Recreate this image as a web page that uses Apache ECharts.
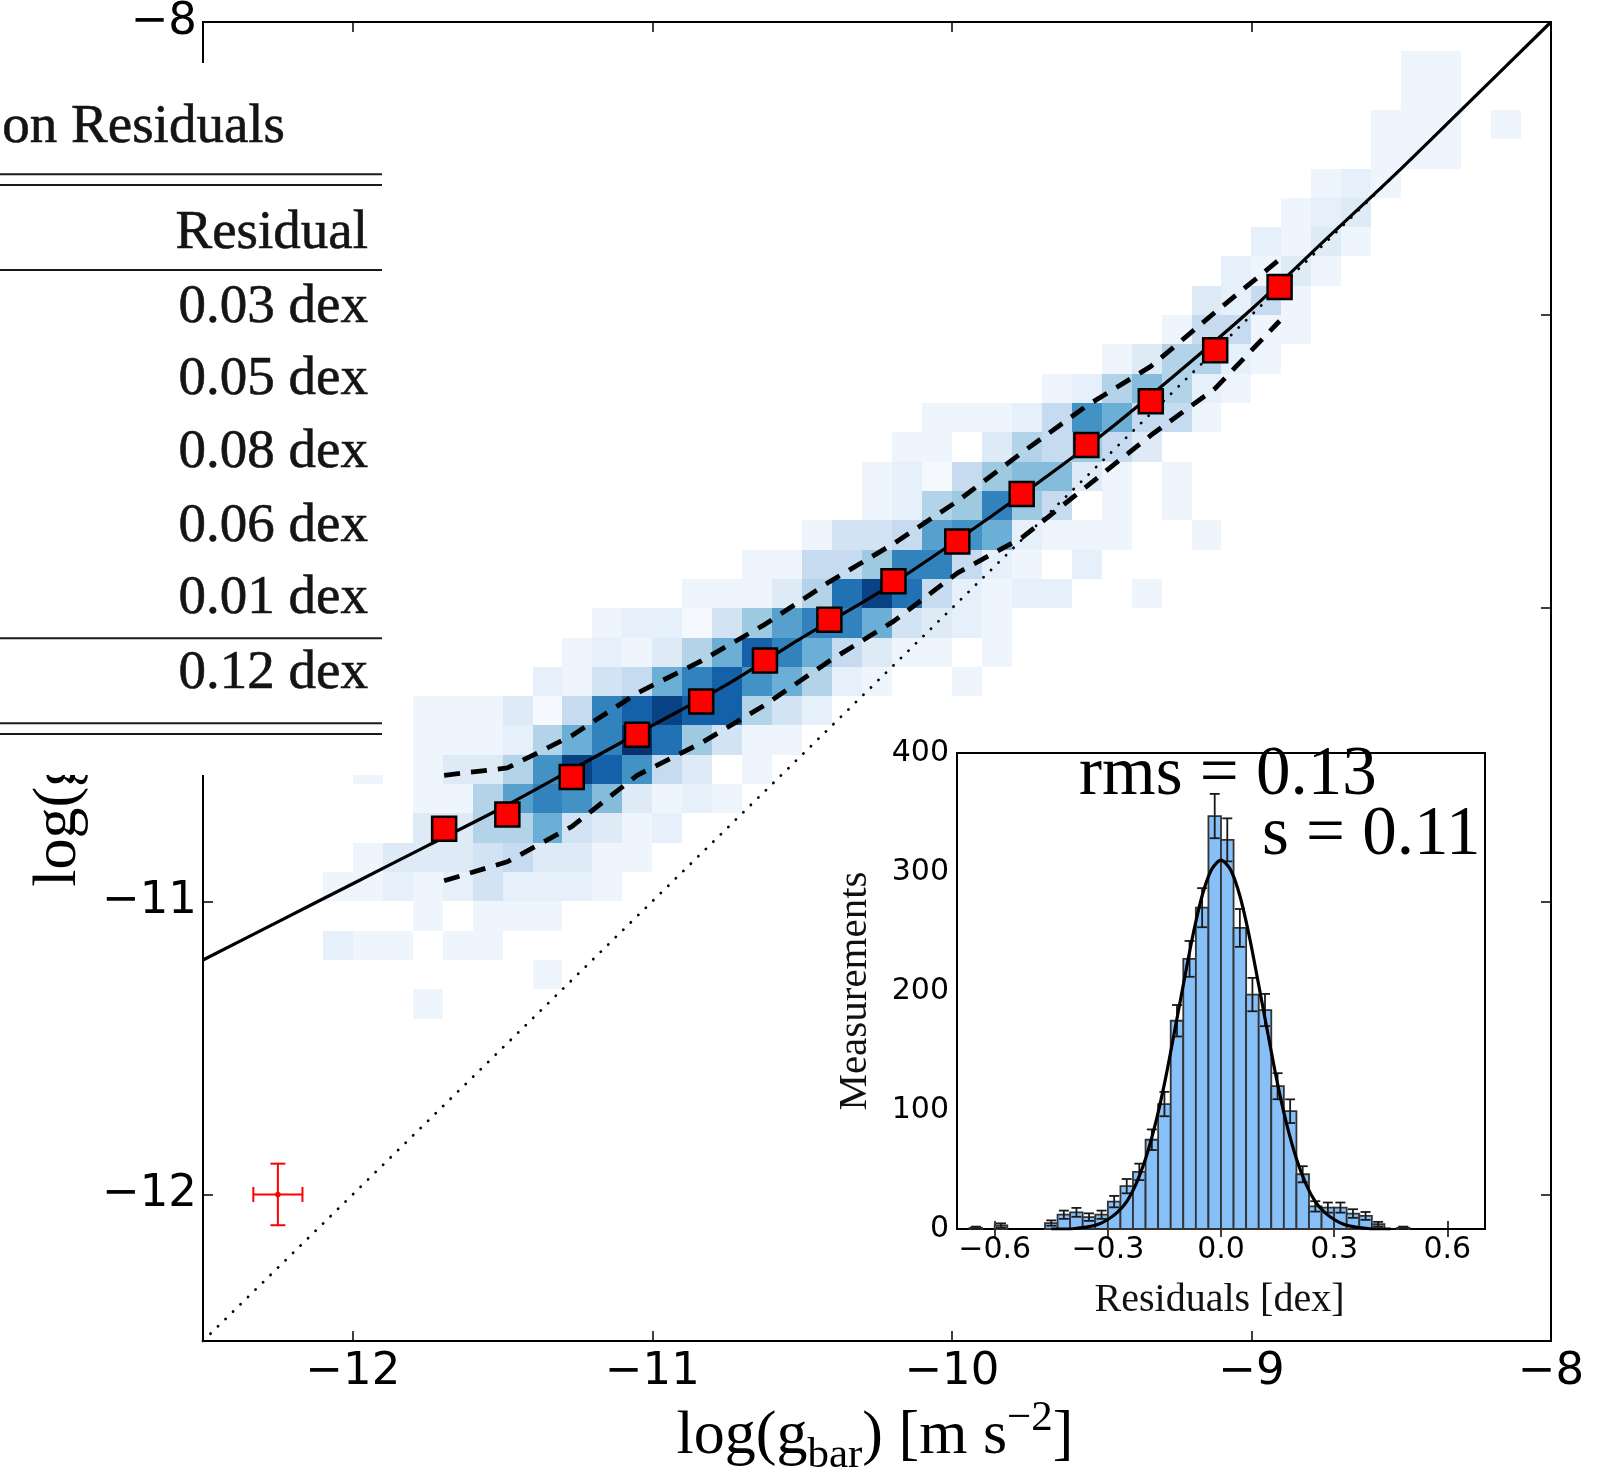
<!DOCTYPE html>
<html><head><meta charset="utf-8">
<script src="https://cdn.jsdelivr.net/npm/echarts@6/dist/echarts.min.js"></script>
<style>html,body{margin:0;padding:0;background:#fff}#c{width:1599px;height:1478px}</style>
</head><body><div id="c"></div>
<script>
// ---------------- data ----------------
const mainTicks = [-12, -11, -10, -9, -8];
const binSize = 0.1;                       // 2D histogram bin (dex)
// each row: lower y edge, lower x edge of first cell, shade levels (0 = empty, 9 = darkest)
const heatRowY = [-11.4, -11.3, -11.2, -11.1, -11.0, -10.9, -10.8, -10.7, -10.6, -10.5, -10.4, -10.3, -10.2, -10.1,
  -10.0, -9.9, -9.8, -9.7, -9.6, -9.5, -9.4, -9.3, -9.2, -9.1, -9.0, -8.9, -8.8, -8.7, -8.6, -8.5, -8.4, -8.3, -8.2];
const heatRowX0 = [-11.8, -11.4, -12.1, -11.8, -12.1, -12.0, -11.8, -11.8, -12.0, -11.8, -11.8, -11.4, -11.3, -11.2,
  -10.9, -10.7, -10.5, -10.3, -10.3, -10.2, -10.1, -9.7, -9.5, -9.3, -9.2, -9.1, -9.0, -8.9, -8.8, -8.6, -8.6, -8.5, -8.5];
const heatRowLevels = [
  [1],
  [1],
  [1.5, 1, 1, 0, 1, 1],
  [1, 0, 1, 1, 1],
  [1, 1, 1.5, 1, 1.5, 2.5, 1.5, 1.5, 1.5, 1],
  [1, 2, 2, 2, 2.5, 3, 2, 2, 1, 1],
  [2, 2, 3.5, 3.5, 5, 2.5, 2, 1, 1.5],
  [1, 1, 3.5, 5.5, 6.5, 6, 4.5, 2, 1, 1.5, 1],
  [1, 0, 1, 2, 2, 3.5, 6, 8.5, 7.5, 6, 3, 2, 0, 1],
  [1, 1, 1, 1.5, 3.5, 5, 6.5, 9, 7, 4, 2.5, 1, 1],
  [1, 1, 1, 2, 0.5, 3, 6.5, 7.5, 8.5, 7.5, 7.5, 3.5, 2.5, 1.5],
  [1.5, 1, 2.5, 3, 5, 6.5, 7.5, 6, 5, 3.5, 1.5, 1, 0, 0, 1],
  [1, 1.5, 1, 2, 3.5, 5, 7.5, 6.5, 5, 3, 2, 1, 1, 0, 1],
  [1, 1.5, 1.5, 0.5, 2.5, 4, 5.5, 6.5, 6.5, 5, 2.5, 2, 1.5, 1],
  [1, 1, 1, 2, 3.5, 7, 8.5, 7, 3, 1.5, 1, 1.5, 1.5, 0, 0, 1],
  [1, 1, 3, 3, 4, 6.5, 6.5, 3, 1.5, 1, 0, 1.5],
  [1, 2.5, 2.5, 3, 5.5, 6, 5, 1.5, 1, 1, 1, 0, 0, 1],
  [1, 1.5, 3.5, 4, 6.5, 4, 3, 0, 1, 0, 1],
  [1, 1.5, 0.5, 3, 4, 4.5, 4.5, 2, 1, 0, 1],
  [1, 1, 0, 2, 3.5, 3, 4, 3, 2],
  [1, 1, 1, 1.5, 3, 6, 5, 3, 3, 1],
  [1, 1.5, 3.5, 4.5, 3.5, 1.5, 1],
  [1, 2, 3.5, 3.5, 1.5, 1],
  [1, 3, 3, 1, 1],
  [2, 1.5, 3, 1],
  [1.5, 1, 2, 1],
  [1.5, 1, 2, 1],
  [1, 1.5, 2],
  [1, 1.5, 1],
  [1, 1, 1],
  [1, 1, 1, 0, 1],
  [1, 1],
  [1, 1]
];
const blues = ['#fbfdff', '#eef5fc', '#deebf7', '#c6dbef', '#9ecae1', '#6baed6', '#4292c6', '#2171b5', '#08519c', '#08306b'];

const binnedX = [-11.695, -11.484, -11.269, -11.051, -10.837, -10.624, -10.409, -10.195, -9.982, -9.767, -9.551, -9.336, -9.121, -8.906];
const binnedY = [-10.752, -10.704, -10.576, -10.432, -10.318, -10.178, -10.039, -9.908, -9.772, -9.610, -9.443, -9.294, -9.120, -8.904];
const upperY  = [-10.57, -10.545, -10.435, -10.29, -10.18, -10.055, -9.91, -9.78, -9.635, -9.47, -9.31, -9.175, -8.99, -8.81];
const lowerY  = [-10.93, -10.865, -10.745, -10.57, -10.46, -10.33, -10.18, -10.045, -9.88, -9.76, -9.585, -9.41, -9.25, -9.02];

const fitX = [-12.5, -12.25, -12, -11.75, -11.5, -11.25, -11, -10.75, -10.5, -10.25, -10, -9.75, -9.5, -9.25, -9, -8.75, -8.5, -8.25, -8];
const fitY = [-11.20, -11.07, -10.94, -10.81, -10.68, -10.54, -10.40, -10.26, -10.10, -9.95, -9.78, -9.60, -9.41, -9.20, -8.98, -8.74, -8.50, -8.25, -8.00];
const unityX = [-12.5, -8];
const unityY = [-12.5, -8];
const errPoint = [-12.25, -12.0];
const errHalf = [0.082, 0.105];

const histStart = -0.7;
const histBin = 1 / 30;
const histCounts = [0, 1, 0, 3, 0, 0, 0, 5, 12, 14, 10, 12, 23, 36, 48, 75, 105, 175, 227, 270, 347, 327, 253, 197, 184, 120, 99, 46, 19, 18, 18, 13, 11, 4, 0, 1];
const gaussX = [-0.45, -0.425, -0.4, -0.375, -0.35, -0.325, -0.3, -0.275, -0.25, -0.225, -0.2, -0.175, -0.15, -0.125, -0.1, -0.075, -0.05, -0.025, 0,
  0.025, 0.05, 0.075, 0.1, 0.125, 0.15, 0.175, 0.2, 0.225, 0.25, 0.275, 0.3, 0.325, 0.35, 0.375, 0.4, 0.425, 0.45];
const gaussY = [0, 0, 0, 1, 2, 4, 8, 14, 23, 38, 59, 87, 122, 163, 205, 246, 280, 302, 310,
  302, 280, 246, 205, 163, 122, 87, 59, 38, 23, 14, 8, 4, 2, 1, 0, 0, 0];
const insetXTicks = [-0.6, -0.3, 0, 0.3, 0.6];
const insetYTicks = [0, 100, 200, 300, 400];

const tableTitle = 'on Residuals';
const tableHeader = 'Residual';
const tableRows = ['0.03 dex', '0.05 dex', '0.08 dex', '0.06 dex', '0.01 dex'];
const tableTotal = '0.12 dex';
const statRms = 'rms = 0.13';
const statS = 's = 0.11';

// ---------------- build series data ----------------
const r1 = v => Math.round(v * 1000) / 1000;
const heatData = [];
heatRowY.forEach((y, r) => {
  heatRowLevels[r].forEach((lv, i) => {
    if (lv > 0) heatData.push([r1(heatRowX0[r] + i * binSize), y, lv]);
  });
});
const histData = histCounts.map((c, i) => [histStart + i * histBin, histStart + (i + 1) * histBin, c]).filter(d => d[2] > 0);
const zip = (a, b) => a.map((v, i) => [v, b[i]]);
const minusFmt = v => (v < 0 ? '\u2212' : '') + Math.abs(v);
const minusFmt1 = v => (v < -1e-9 ? '\u2212' : '') + Math.abs(v).toFixed(1);

const chart = echarts.init(document.getElementById('c'), null, { renderer: 'canvas' });

function axisX(grid, pos, ticks, showLabel, fmt, fs, margin, len, min, max, z) {
  return {
    gridIndex: grid, type: 'value', position: pos, min: min, max: max, z: z,
    axisLine: { show: false }, splitLine: { show: false },
    axisTick: { show: true, inside: true, length: len, customValues: ticks, lineStyle: { color: '#000', width: 1.5 } },
    axisLabel: { show: showLabel, customValues: ticks, formatter: fmt, fontFamily: 'DejaVu Sans', fontSize: fs, color: '#000', margin: margin }
  };
}

const serifMain = 'Liberation Serif';
const labelRich = {
  a: { fontFamily: serifMain, fontSize: 62, lineHeight: 80, color: '#000' },
  b: { fontFamily: serifMain, fontSize: 43, lineHeight: 36, verticalAlign: 'bottom', color: '#000' },
  c: { fontFamily: serifMain, fontSize: 43, lineHeight: 48, verticalAlign: 'top', color: '#000' }
};

const graphics = [];
// main axis labels
graphics.push({ type: 'text', x: 875, y: 1397, z: 20, style: { text: '{a|log(g}{b|bar}{a|) [m s}{c|\u22122}{a|]}', rich: labelRich, textAlign: 'center', textVerticalAlign: 'top' } });
graphics.push({ type: 'text', x: 59, y: 686, rotation: Math.PI / 2, z: 1, style: { text: '{a|log(g}{b|obs}{a|) [m s}{c|\u22122}{a|]}', rich: labelRich, textAlign: 'center', textVerticalAlign: 'middle' } });
// table overlay
graphics.push({ type: 'rect', z: 19, shape: { x: 0, y: 63, width: 383, height: 712 }, style: { fill: '#fff' } });
const tFont = '55px "Liberation Serif"';
const tMid = b => b - 0.3375 * 55;
const tStroke = { stroke: '#141414', lineWidth: 0.6 };
graphics.push({ type: 'text', z: 20, x: 285, y: tMid(146), style: Object.assign({ text: tableTitle, font: tFont, fill: '#141414', textAlign: 'right', textVerticalAlign: 'middle' }, tStroke) });
graphics.push({ type: 'text', z: 20, x: 368, y: tMid(252), style: Object.assign({ text: tableHeader, font: tFont, fill: '#141414', textAlign: 'right', textVerticalAlign: 'middle' }, tStroke) });
const rowBase = [326, 398.3, 470.7, 545, 617.3];
tableRows.forEach((t, i) => {
  graphics.push({ type: 'text', z: 20, x: 368, y: tMid(rowBase[i]), style: Object.assign({ text: t, font: tFont, fill: '#141414', textAlign: 'right', textVerticalAlign: 'middle' }, tStroke) });
});
graphics.push({ type: 'text', z: 20, x: 368, y: tMid(691.7), style: Object.assign({ text: tableTotal, font: tFont, fill: '#141414', textAlign: 'right', textVerticalAlign: 'middle' }, tStroke) });
[174.3, 185, 270, 638.3, 723.3, 734].forEach(yy => {
  graphics.push({ type: 'line', z: 20, shape: { x1: 0, y1: yy, x2: 382, y2: yy }, style: { stroke: '#1a1a1a', lineWidth: 2 } });
});
// inset labels
graphics.push({ type: 'text', z: 12, x: 1219.5, y: 1313.5 - 0.3375 * 40, style: { text: 'Residuals [dex]', font: '40px "Liberation Serif"', fill: '#111', textAlign: 'center', textVerticalAlign: 'middle' } });
graphics.push({ type: 'text', z: 12, x: 855, y: 991, rotation: Math.PI / 2, style: { text: 'Measurements', font: '41px "Liberation Serif"', fill: '#111', textAlign: 'center', textVerticalAlign: 'middle' } });
graphics.push({ type: 'text', z: 12, x: 1079, y: 799 - 0.3375 * 69, style: { text: statRms, font: '69px "Liberation Serif"', fill: '#000', textAlign: 'left', textVerticalAlign: 'middle' } });
graphics.push({ type: 'text', z: 12, x: 1262, y: 859 - 0.3375 * 69, style: { text: statS, font: '69px "Liberation Serif"', fill: '#000', textAlign: 'left', textVerticalAlign: 'middle' } });

const option = {
  animation: false,
  backgroundColor: '#fff',
  grid: [
    { left: 203, right: 48, top: 22, bottom: 137, show: true, borderColor: '#000', borderWidth: 2, backgroundColor: 'rgba(0,0,0,0)', outerBoundsMode: 'none', containLabel: false, z: 0 },
    { left: 957, right: 114, top: 753, bottom: 249, show: true, borderColor: '#000', borderWidth: 2, backgroundColor: '#fff', outerBoundsMode: 'none', containLabel: false, z: 6 }
  ],
  xAxis: [
    axisX(0, 'bottom', mainTicks, true, minusFmt, 45, 9, 10, -12.5, -8, 1),
    axisX(0, 'top', mainTicks, false, minusFmt, 45, 9, 10, -12.5, -8, 1),
    axisX(1, 'bottom', insetXTicks, true, minusFmt1, 30, 6, 8, -0.7, 0.7, 7),
    axisX(1, 'top', insetXTicks, false, minusFmt1, 30, 6, 8, -0.7, 0.7, 7)
  ],
  yAxis: [
    axisX(0, 'left', mainTicks, true, minusFmt, 45, 6, 10, -12.5, -8, 1),
    axisX(0, 'right', mainTicks, false, minusFmt, 45, 6, 10, -12.5, -8, 1),
    axisX(1, 'left', insetYTicks, true, v => String(v), 30, 8, 8, 0, 400, 7),
    axisX(1, 'right', insetYTicks, false, v => String(v), 30, 8, 8, 0, 400, 7)
  ],
  visualMap: {
    type: 'continuous', show: false, seriesIndex: 0, dimension: 2, min: 0, max: 9,
    inRange: { color: blues }
  },
  graphic: { elements: graphics },
  series: [
    {
      type: 'custom', name: 'density', xAxisIndex: 0, yAxisIndex: 0, z: 1, data: heatData,
      encode: { x: 0, y: 1 },
      renderItem: function (params, api) {
        const x = api.value(0), y = api.value(1);
        const p0 = api.coord([x, y + binSize]);
        const p1 = api.coord([x + binSize, y]);
        const x0 = Math.round(p0[0]), y0 = Math.round(p0[1]), x1 = Math.round(p1[0]), y1 = Math.round(p1[1]);
        return { type: 'rect', shape: { x: x0, y: y0, width: x1 - x0, height: y1 - y0 }, style: { fill: api.visual('color') } };
      }
    },
    {
      type: 'line', name: 'unity', xAxisIndex: 0, yAxisIndex: 0, z: 3, symbol: 'none', data: zip(unityX, unityY),
      lineStyle: { color: '#000', width: 2.8, type: [0.1, 10.4], cap: 'round' }
    },
    {
      type: 'line', name: 'fit', xAxisIndex: 0, yAxisIndex: 0, z: 3, symbol: 'none', smooth: 0.3, data: zip(fitX, fitY),
      lineStyle: { color: '#000', width: 3.2 }
    },
    {
      type: 'line', name: 'upper', xAxisIndex: 0, yAxisIndex: 0, z: 3, symbol: 'none', data: zip(binnedX, upperY),
      lineStyle: { color: '#000', width: 4.8, type: [16, 11] }
    },
    {
      type: 'line', name: 'lower', xAxisIndex: 0, yAxisIndex: 0, z: 3, symbol: 'none', data: zip(binnedX, lowerY),
      lineStyle: { color: '#000', width: 4.8, type: [16, 11] }
    },
    {
      type: 'scatter', name: 'binned', xAxisIndex: 0, yAxisIndex: 0, z: 4, symbol: 'rect', symbolSize: 24, data: zip(binnedX, binnedY),
      itemStyle: { color: '#ff0000', borderColor: '#000', borderWidth: 2.5, opacity: 1 }
    },
    {
      type: 'custom', name: 'typical error', xAxisIndex: 0, yAxisIndex: 0, z: 4, data: [[errPoint[0], errPoint[1], errHalf[0], errHalf[1]]],
      renderItem: function (params, api) {
        const x = api.value(0), y = api.value(1), ex = api.value(2), ey = api.value(3);
        const c = api.coord([x, y]);
        const l = api.coord([x - ex, y]), r = api.coord([x + ex, y]);
        const t = api.coord([x, y + ey]), b = api.coord([x, y - ey]);
        const st = { stroke: '#ff0000', lineWidth: 2 };
        const cap = 7.5;
        return {
          type: 'group', children: [
            { type: 'line', shape: { x1: l[0], y1: l[1], x2: r[0], y2: r[1] }, style: st },
            { type: 'line', shape: { x1: t[0], y1: t[1], x2: b[0], y2: b[1] }, style: st },
            { type: 'line', shape: { x1: l[0], y1: l[1] - cap, x2: l[0], y2: l[1] + cap }, style: st },
            { type: 'line', shape: { x1: r[0], y1: r[1] - cap, x2: r[0], y2: r[1] + cap }, style: st },
            { type: 'line', shape: { x1: t[0] - cap, y1: t[1], x2: t[0] + cap, y2: t[1] }, style: st },
            { type: 'line', shape: { x1: b[0] - cap, y1: b[1], x2: b[0] + cap, y2: b[1] }, style: st },
            { type: 'circle', shape: { cx: c[0], cy: c[1], r: 2.8 }, style: { fill: '#ff0000' } }
          ]
        };
      }
    },
    {
      type: 'custom', name: 'histogram', xAxisIndex: 2, yAxisIndex: 2, z: 8, data: histData,
      encode: { x: [0, 1], y: 2 },
      renderItem: function (params, api) {
        const p0 = api.coord([api.value(0), api.value(2)]);
        const p1 = api.coord([api.value(1), 0]);
        return { type: 'rect', shape: { x: p0[0], y: p0[1], width: p1[0] - p0[0], height: p1[1] - p0[1] }, style: { fill: '#87c0f9', stroke: '#333', lineWidth: 1.8 } };
      }
    },
    {
      type: 'custom', name: 'poisson errors', xAxisIndex: 2, yAxisIndex: 2, z: 9, data: histData,
      encode: { x: [0, 1], y: 2 },
      renderItem: function (params, api) {
        const xm = (api.value(0) + api.value(1)) / 2, n = api.value(2), e = Math.sqrt(n);
        const t = api.coord([xm, n + e]), b = api.coord([xm, Math.max(0, n - e)]);
        const st = { stroke: '#1a1a1a', lineWidth: 1.8 };
        const cap = 5;
        return {
          type: 'group', children: [
            { type: 'line', shape: { x1: t[0], y1: t[1], x2: b[0], y2: b[1] }, style: st },
            { type: 'line', shape: { x1: t[0] - cap, y1: t[1], x2: t[0] + cap, y2: t[1] }, style: st },
            { type: 'line', shape: { x1: b[0] - cap, y1: b[1], x2: b[0] + cap, y2: b[1] }, style: st }
          ]
        };
      }
    },
    {
      type: 'line', name: 'gaussian', xAxisIndex: 2, yAxisIndex: 2, z: 10, symbol: 'none', smooth: 0.3, data: zip(gaussX, gaussY),
      lineStyle: { color: '#000', width: 3.2 }
    }
  ]
};
chart.setOption(option);
</script>
</body></html>
